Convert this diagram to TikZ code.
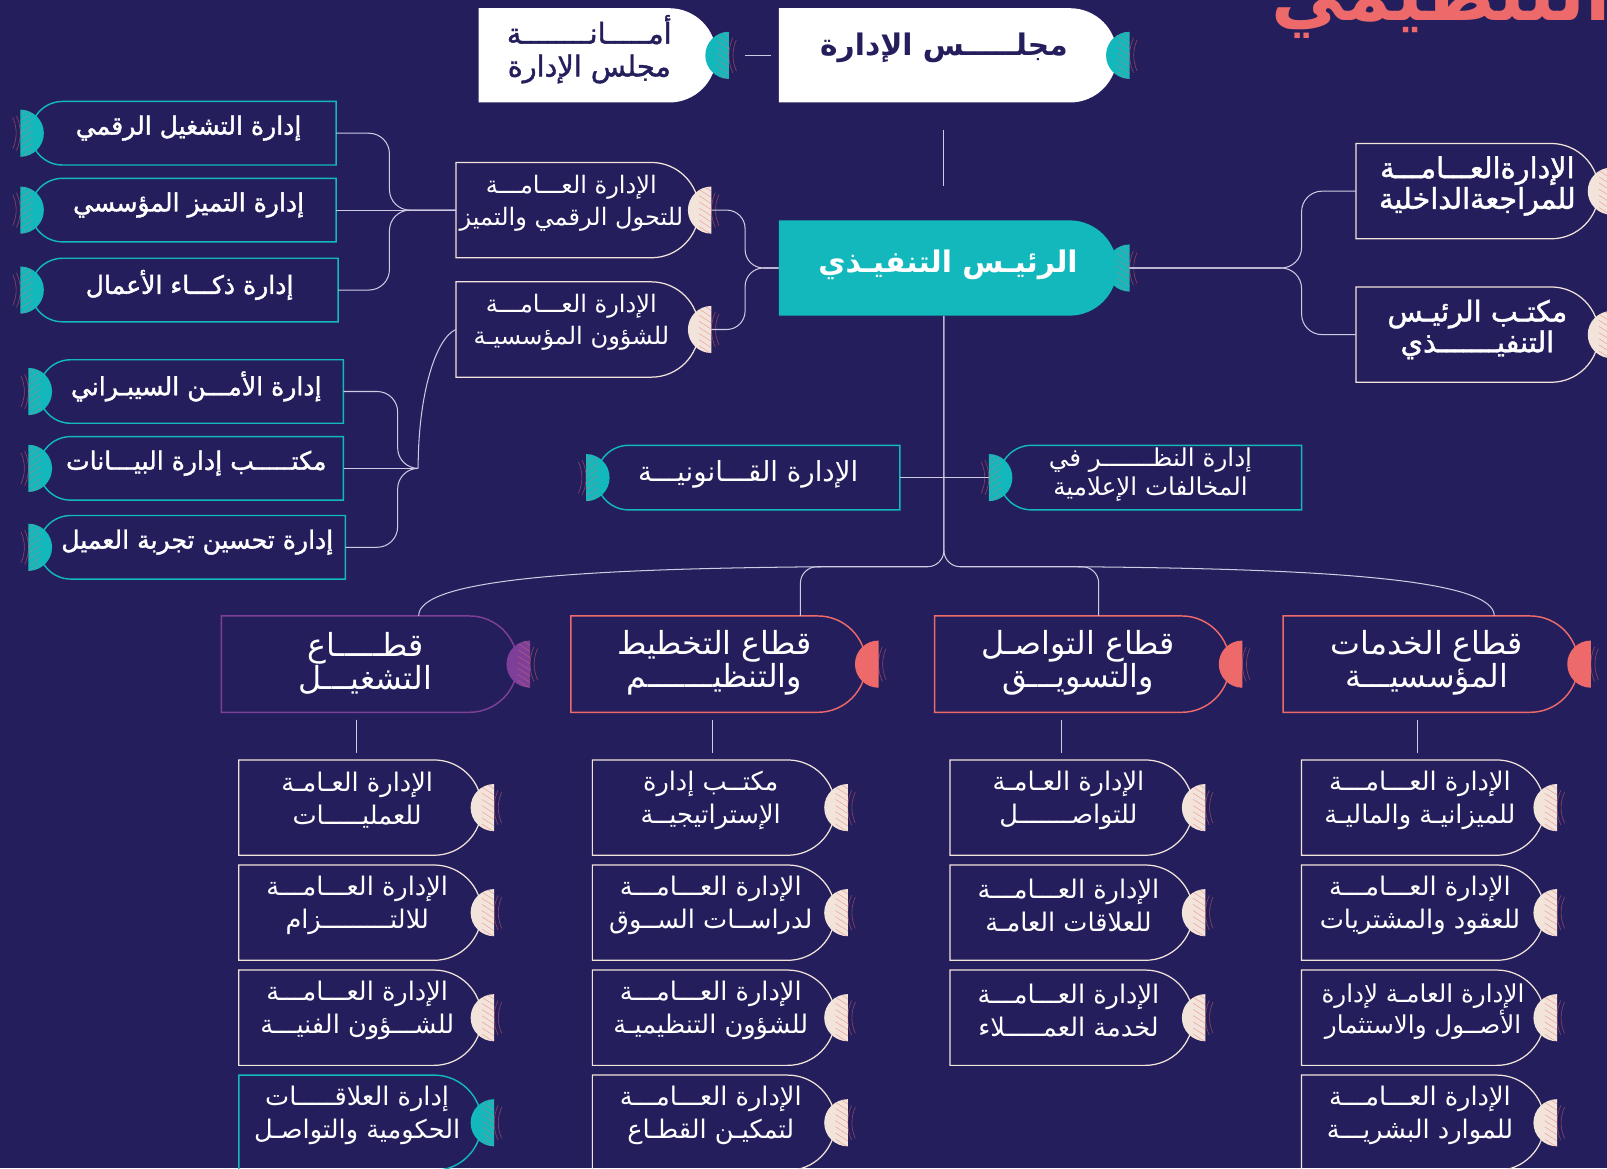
\documentclass[tikz,border=0pt]{standalone}
\usepackage{fontspec}
\usepackage{tikz}
\usetikzlibrary{calc}
\TeXXeTstate=1
\newfontfamily\arabicfont[Script=Arabic]{DejaVu Sans}
\newfontface\arabicmed[Script=Arabic,FakeBold=1.5]{DejaVu Sans}
\definecolor{bgnavy}{HTML}{241F5C}
\definecolor{tealx}{HTML}{13B8BC}
\definecolor{coral}{HTML}{EE6A6A}
\definecolor{purp}{HTML}{7D3F98}
\definecolor{cream}{HTML}{F2E4DA}
\definecolor{wire}{HTML}{CFCBE2}
\tikzset{
  conn/.style={wire,line width=1pt},
  lineT/.style={draw=tealx,line width=1.4pt},
  lineC/.style={draw=cream,line width=1.2pt},
  lineO/.style={draw=coral,line width=1.4pt},
  lineP/.style={draw=purp,line width=1.4pt},
  fillW/.style={fill=white},
  fillT/.style={fill=tealx},
  boxarea/.style={inner sep=0pt},
  txtbase/.style={text=white,align=center,inner sep=0pt},
  txt/.style={txtbase,xshift=-3,yshift=7,font=\arabicfont\fontsize{25}{32}\selectfont},
  txtM/.style={txtbase,yshift=6,font=\arabicfont\fontsize{24}{30}\selectfont},
  txtV/.style={txtbase,yshift=3,font=\arabicfont\fontsize{24}{29}\selectfont},
  txtD/.style={txtbase,xshift=-6,yshift=7,font=\arabicfont\fontsize{23.5}{31}\selectfont},
  txtS/.style={txtbase,xshift=5,yshift=5,font=\arabicmed\fontsize{24.5}{30}\selectfont},
  txtR/.style={txtbase,yshift=3,font=\arabicfont\fontsize{27}{30}\selectfont},
  txtH/.style={txtbase,yshift=5,font=\arabicmed\fontsize{28}{30}\selectfont},
  txtL/.style={txtbase,xshift=-4,yshift=1,font=\arabicfont\fontsize{31}{32}\selectfont},
  txtB/.style={txtbase,yshift=3,font=\arabicfont\bfseries\fontsize{29}{33}\selectfont},
  txtN/.style={txtbase,xshift=-8,yshift=6,text=bgnavy,font=\arabicmed\fontsize{28}{32}\selectfont},
  txtNB/.style={txtbase,xshift=-4,yshift=7,text=bgnavy,font=\arabicfont\bfseries\fontsize{29}{32}\selectfont},
  hatch/.style={coral,line width=0.5pt,opacity=0.55},
  deco/.style={coral,line width=0.6pt,opacity=0.5},
  titletxt/.style={text=coral,inner sep=0pt,font=\arabicfont\bfseries\fontsize{72}{72}\selectfont},
}
\newcommand{\artxt}[1]{\beginR #1\endR}
% half disc, flat side out (right / left)
\newcommand{\rdisc}[2]{%
  \coordinate (#1d) at ([xshift=12]#1.east);
  \fill[#2] (#1d) ++(0,23) arc[start angle=90,end angle=270,radius=23pt] -- cycle;
  \begin{scope}
    \clip (#1d) ++(0,23) arc[start angle=90,end angle=270,radius=23pt] -- cycle;
    \foreach \k in {-28,-22,...,28} \draw[hatch] ([shift={(-12,\k)}]#1d) -- ++(14,-9);
  \end{scope}
  \foreach \rr in {36pt,40pt} \draw[deco] ([xshift=40]#1d) ++(155:\rr) arc[start angle=155,end angle=205,radius=\rr];}
\newcommand{\ldisc}[2]{%
  \coordinate (#1d) at ([xshift=-10]#1.west);
  \fill[#2] (#1d) ++(0,23) arc[start angle=90,end angle=-90,radius=23pt] -- cycle;
  \begin{scope}
    \clip (#1d) ++(0,23) arc[start angle=90,end angle=-90,radius=23pt] -- cycle;
    \foreach \k in {-28,-22,...,28} \draw[hatch] ([shift={(12,\k)}]#1d) -- ++(-14,-9);
  \end{scope}
  \foreach \rr in {36pt,40pt} \draw[deco] ([xshift=-40]#1d) ++(-25:\rr) arc[start angle=-25,end angle=25,radius=\rr];}
% name, x, y, width, height, outline, disc colour, text style, text
\newcommand{\rtab}[9]{%
  \path[#6] ({#2-#4/2},{#3+#5/2}) -- ({#2+#4/2-#5/2},{#3+#5/2})
    arc[start angle=90,end angle=-90,radius={#5*0.5pt}] -- ({#2-#4/2},{#3-#5/2}) -- cycle;
  \node[boxarea,minimum width=#4,minimum height=#5] (#1) at (#2,#3) {};
  \node[#8] (#1t) at (#2,#3) {#9};
  \rdisc{#1}{#7}}
\newcommand{\ltab}[9]{%
  \path[#6] ({#2+#4/2},{#3+#5/2}) -- ({#2-#4/2+#5/2},{#3+#5/2})
    arc[start angle=90,end angle=270,radius={#5*0.5pt}] -- ({#2+#4/2},{#3-#5/2}) -- cycle;
  \node[boxarea,minimum width=#4,minimum height=#5] (#1) at (#2,#3) {};
  \node[#8] (#1t) at (#2,#3) {#9};
  \ldisc{#1}{#7}}

\begin{document}
\begin{tikzpicture}[x=1pt,y=1pt]
  \useasboundingbox (0,0) rectangle (1568,-1140);
  \fill[bgnavy] (0,0) rectangle (1568,-1140);
  \node[titletxt,anchor=base west] (title) at (1240,-20) {\artxt{الهيكل التنظيمي}};

  % top
  \rtab{secr}{583}{-54}{232}{92}{fillW}{tealx}{txtN}{\artxt{أمـــــانــــــــة}\\\artxt{مجلس الإدارة}}
  \rtab{board}{925}{-54}{330}{92}{fillW}{tealx}{txtNB}{\artxt{مجلـــــس الإدارة}}
  \rtab{exec}{925}{-261.5}{330}{93}{fillT}{tealx}{txtB}{\artxt{الرئيـس التنفيـذي}}
  \rtab{audit}{1441.5}{-186.5}{237}{93}{lineC}{cream}{txtH}{\artxt{الإدارةالعـــامـــة}\\\artxt{للمراجعةالداخلية}}
  \rtab{office}{1441.5}{-326.5}{237}{93}{lineC}{cream}{txtH}{\artxt{مكتـب الرئيـس}\\\artxt{التنفيـــــــذي}}
  \rtab{dig}{563.5}{-205}{237}{93}{lineC}{cream}{txtD}{\artxt{الإدارة العـــامـــة}\\\artxt{للتحول الرقمي والتميز}}
  \rtab{corp}{563.5}{-321.5}{237}{93}{lineC}{cream}{txtD}{\artxt{الإدارة العـــامـــة}\\\artxt{للشؤون المؤسسيـة}}

  % left departments
  \ltab{dops}{179}{-130}{298}{62}{lineT}{tealx}{txtS}{\artxt{إدارة التشغيل الرقمي}}
  \ltab{dexc}{179}{-205}{298}{62}{lineT}{tealx}{txtS}{\artxt{إدارة التميز المؤسسي}}
  \ltab{dbi}{180}{-283}{300}{62}{lineT}{tealx}{txtS}{\artxt{إدارة ذكـــاء الأعمال}}
  \ltab{cyber}{186.5}{-382}{297}{62}{lineT}{tealx}{txtS}{\artxt{إدارة الأمـــن السيبـراني}}
  \ltab{data}{186.5}{-457}{297}{62}{lineT}{tealx}{txtS}{\artxt{مكتـــــب إدارة البيـــانات}}
  \ltab{cx}{187.5}{-534}{299}{62}{lineT}{tealx}{txtS}{\artxt{إدارة تحسين تجربة العميل}}
  \ltab{legal}{730}{-466}{296}{63}{lineT}{tealx}{txtR}{\artxt{الإدارة القـــانونيـــة}}
  \ltab{media}{1122.5}{-466}{295}{63}{lineT}{tealx}{txtV}{\artxt{إدارة النظـــــــر في}\\\artxt{المخالفات الإعلامية}}

  % sectors
  \rtab{ops}{360.5}{-648}{289}{94}{lineP}{purp}{txtL}{\artxt{قطـــــاع}\\\artxt{التشغيـــل}}
  \rtab{plan}{701}{-648}{288}{94}{lineO}{coral}{txtL}{\artxt{قطاع التخطيط}\\\artxt{والتنظيـــــــم}}
  \rtab{comm}{1056}{-648}{288}{94}{lineO}{coral}{txtL}{\artxt{قطاع التواصـل}\\\artxt{والتسويـــق}}
  \rtab{serv}{1396}{-648}{288}{94}{lineO}{coral}{txtL}{\artxt{قطاع الخدمات}\\\artxt{المؤسسيـــة}}

  % sector departments
  \rtab{c11}{351.5}{-788}{237}{93}{lineC}{cream}{txt}{\artxt{الإدارة العـامـة}\\\artxt{للعمليـــــات}}
  \rtab{c12}{351.5}{-890.5}{237}{93}{lineC}{cream}{txt}{\artxt{الإدارة العـــامـــة}\\\artxt{للالتـــــــــزام}}
  \rtab{c13}{351.5}{-993}{237}{93}{lineC}{cream}{txt}{\artxt{الإدارة العـــامـــة}\\\artxt{للشـــؤون الفنيـــة}}
  \rtab{c14}{351.5}{-1095.5}{237}{93}{lineT}{tealx}{txt}{\artxt{إدارة العلاقـــــات}\\\artxt{الحكومية والتواصـل}}
  \rtab{c21}{696.5}{-788}{237}{93}{lineC}{cream}{txt}{\artxt{مكتــب إدارة}\\\artxt{الإستراتيجيــة}}
  \rtab{c22}{696.5}{-890.5}{237}{93}{lineC}{cream}{txt}{\artxt{الإدارة العـــامـــة}\\\artxt{لدراســات الســوق}}
  \rtab{c23}{696.5}{-993}{237}{93}{lineC}{cream}{txt}{\artxt{الإدارة العـــامـــة}\\\artxt{للشؤون التنظيميـة}}
  \rtab{c24}{696.5}{-1095.5}{237}{93}{lineC}{cream}{txt}{\artxt{الإدارة العـــامـــة}\\\artxt{لتمكيـن القطـاع}}
  \rtab{c31}{1045.5}{-788}{237}{93}{lineC}{cream}{txt}{\artxt{الإدارة العـامـة}\\\artxt{للتواصـــــــل}}
  \rtab{c32}{1045.5}{-890.5}{237}{93}{lineC}{cream}{txt}{\artxt{الإدارة العـــامـــة}\\\artxt{للعلاقات العامـة}}
  \rtab{c33}{1045.5}{-993}{237}{93}{lineC}{cream}{txt}{\artxt{الإدارة العـــامـــة}\\\artxt{لخدمة العمـــــلاء}}
  \rtab{c41}{1388.5}{-788}{237}{93}{lineC}{cream}{txt}{\artxt{الإدارة العـــامـــة}\\\artxt{للميزانيـة والماليـة}}
  \rtab{c42}{1388.5}{-890.5}{237}{93}{lineC}{cream}{txt}{\artxt{الإدارة العـــامـــة}\\\artxt{للعقود والمشتريات}}
  \rtab{c43}{1388.5}{-993}{237}{93}{lineC}{cream}{txtM}{\artxt{الإدارة العامـة لإدارة}\\\artxt{الأصــول والاستثمار}}
  \rtab{c44}{1388.5}{-1095.5}{237}{93}{lineC}{cream}{txt}{\artxt{الإدارة العـــامـــة}\\\artxt{للموارد البشريـــة}}

  % connectors
  \draw[conn] ([xshift=28]secr.east) -- ([xshift=-8]board.west);
  \draw[conn] ([xshift=-4,yshift=-27]board.south) -- ([xshift=-4,yshift=33]exec.north);
  \draw[conn,rounded corners=20] ([xshift=12]exec.east) -- (1270,-261.5) |- (audit.west);
  \draw[conn,rounded corners=20] ([xshift=12]exec.east) -- (1270,-261.5) |- (office.west);
  \draw[conn,rounded corners=18] (exec.west) -- (727,-261.5) |- ([xshift=12]dig.east);
  \draw[conn,rounded corners=18] (exec.west) -- (727,-261.5) |- ([xshift=12]corp.east);
  \draw[conn] (dig.west) -- (dexc.east);
  \draw[conn,rounded corners=20] (dig.west) -- (380,-205) |- (dops.east);
  \draw[conn,rounded corners=20] (dig.west) -- (380,-205) |- (dbi.east);
  \coordinate (cj) at (408,-457);
  \draw[conn] (corp.west) .. controls (425,-330) and (408,-385) .. (cj);
  \draw[conn] (data.east) -- (cj);
  \draw[conn,rounded corners=20] (cyber.east) -| (388,-457) -- (cj);
  \draw[conn,rounded corners=20] (cx.east) -| (388,-457) -- (cj);
  \draw[conn] (legal.east) -- ([xshift=-10]media.west);
  \coordinate (hub) at (921,-553);
  \draw[conn,rounded corners=16] ([xshift=-4]exec.south) -- (hub) -| ([xshift=80]plan.north);
  \draw[conn,rounded corners=16] ([xshift=-4]exec.south) -- (hub) -| ([xshift=16]comm.north);
  \draw[conn] (801,-553) .. controls (560,-555) and ([xshift=48,yshift=35]ops.north) .. ([xshift=48]ops.north);
  \draw[conn] (1052,-553) .. controls (1300,-555) and ([xshift=62,yshift=35]serv.north) .. ([xshift=62]serv.north);
  \foreach \s/\c/\d in {ops/c11/-4,plan/c21/-1,comm/c31/-10,serv/c41/-5}
    \draw[conn] ($(\c.north |- \s.south)+(\d,-7)$) -- ($(\c.north)+(\d,7)$);
\end{tikzpicture}
\end{document}
